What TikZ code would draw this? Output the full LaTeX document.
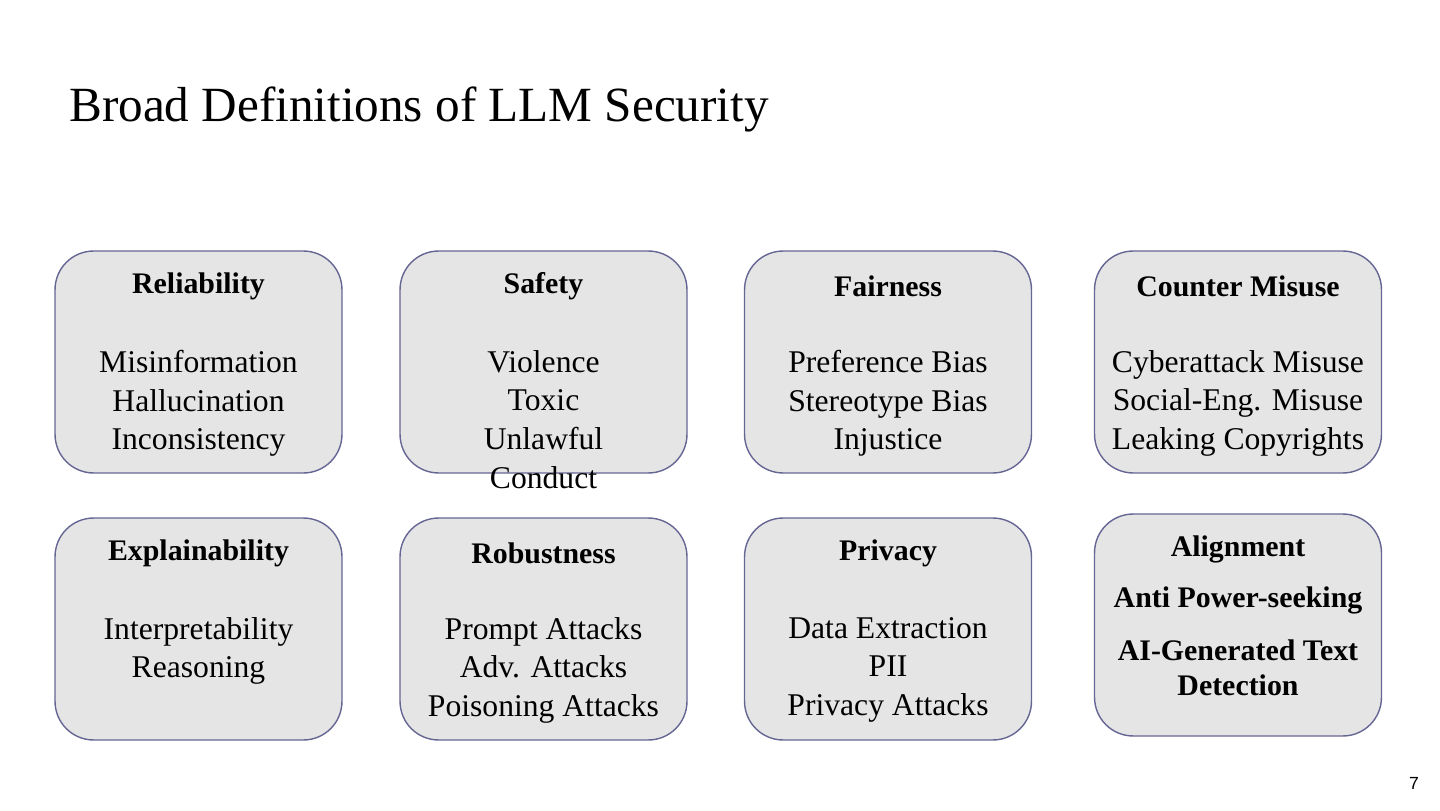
\documentclass[tikz,border=0pt]{standalone}
\usepackage{fontspec}
\setmainfont{Liberation Serif}
\setsansfont{Liberation Sans}
\usetikzlibrary{positioning}

\begin{document}
\begin{tikzpicture}[x=0.02cm,y=-0.02cm,
      card/.style={rounded corners=22pt, draw=black!70!blue!60, fill=black!10, minimum width=5.74cm, minimum height=4.44cm, thick},
      head/.style={font=\fontsize{17}{20}\selectfont\bfseries},
      items/.style={align=center, font=\fontsize{18}{22}\selectfont, anchor=north}
    ]
    \useasboundingbox (0,0) rectangle (1440,811);
    \node[anchor=base west, font=\fontsize{28}{32}\selectfont] (title) at (63,122) {Broad Definitions of LLM Security};

    % Row 1
    \node[card] (rel) at (198.5,362) {};
    \node[card] (saf) at (543.5,362) {};
    \node[card] (fai) at (888,362) {};
    \node[card] (cou) at (1238,362) {};
    \node[head] at (198.5,286) {Reliability};
    \node[head] at (543.5,286) {Safety};
    \node[head] at (888,286) {Fairness};
    \node[head] at (1238,286) {Counter Misuse};
    \node[items] at (198.5,344) {Misinformation\\Hallucination\\Inconsistency};
    \node[items] at (543.5,344) {Violence\\Toxic\\Unlawful\\Conduct};
    \node[items] at (888,344) {Preference Bias\\Stereotype Bias\\Injustice};
    \node[items] at (1238,344) {Cyberattack Misuse\\Social-Eng. Misuse\\Leaking Copyrights};

    % Row 2
    \node[card] (exp) at (198.5,629) {};
    \node[card] (rob) at (543.5,629) {};
    \node[card] (pri) at (888,629) {};
    \node[card] (ali) at (1238,625) {};
    \node[head] at (198.5,553) {Explainability};
    \node[head] at (543.5,553) {Robustness};
    \node[head] at (888,553) {Privacy};
    \node[items] at (198.5,611) {Interpretability\\Reasoning};
    \node[items] at (543.5,611) {Prompt Attacks\\Adv. Attacks\\Poisoning Attacks};
    \node[items] at (888,611) {Data Extraction\\PII\\Privacy Attacks};
    \node[head] at (1238,549) {Alignment};
    \node[head] at (1238,600) {Anti Power-seeking};
    \node[head, align=center, font=\fontsize{17}{20}\selectfont\bfseries] at (1238,668) {AI-Generated Text\\Detection};

    \node[font=\sffamily\fontsize{10}{12}\selectfont] (page) at (1414,783) {7};
  \end{tikzpicture}
\end{document}
